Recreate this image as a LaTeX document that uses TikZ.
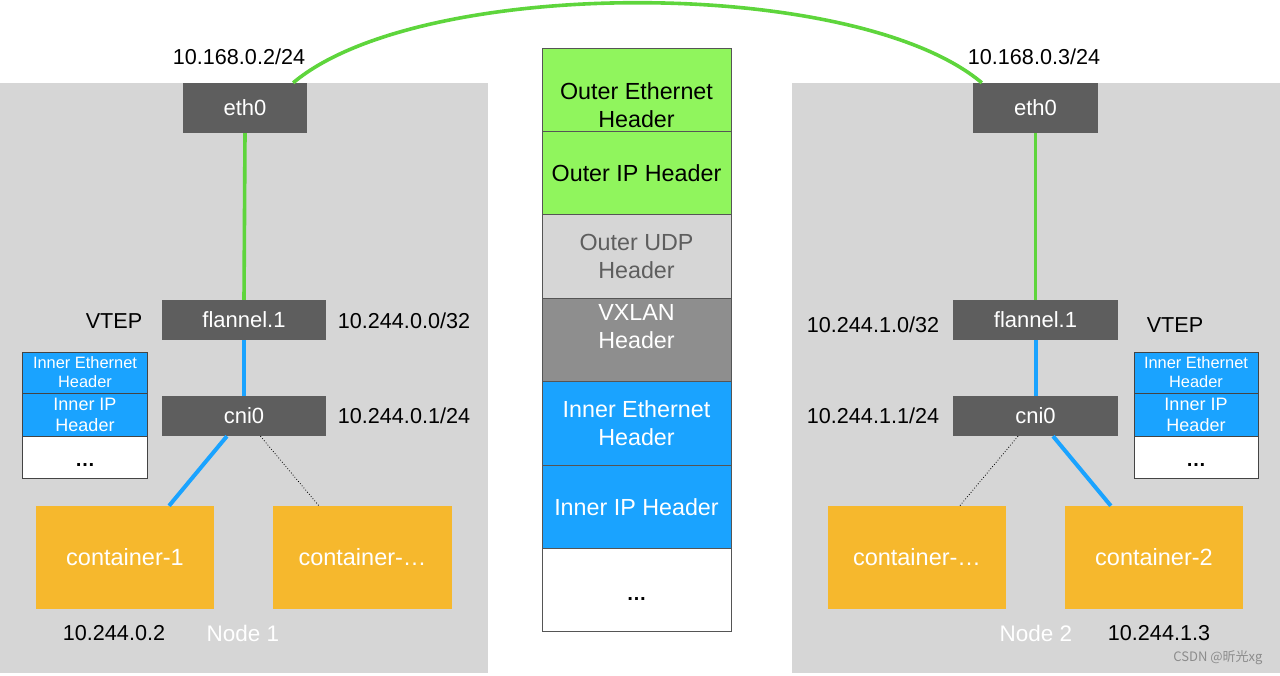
\documentclass[tikz,border=0pt]{standalone}
\usepackage{fontspec}
\setmainfont{Liberation Sans}
\newfontfamily\cjkfont{Noto Sans CJK SC}
\usetikzlibrary{calc}
\definecolor{panelgray}{HTML}{D6D6D6}
\definecolor{devgray}{HTML}{5E5E5E}
\definecolor{contorange}{HTML}{F6B82D}
\definecolor{hdrgreen}{HTML}{90F55D}
\definecolor{hdrblue}{HTML}{1AA3FF}
\definecolor{vxgray}{HTML}{8E8E8E}
\definecolor{linegreen}{HTML}{5ED53C}
\definecolor{linegray}{HTML}{555555}
\begin{document}
\begin{tikzpicture}[x=1pt,y=-1pt,
  dev/.style={fill=devgray, text=white, inner sep=0pt, font=\fontsize{22}{26}\selectfont},
  cont/.style={fill=contorange, text=white, inner sep=0pt, minimum width=178, minimum height=103, font=\fontsize{23.5}{26}\selectfont},
  lbl/.style={inner sep=0pt, font=\fontsize{21.6}{26}\selectfont},
  hdr/.style={draw=linegray, line width=1pt, inner sep=0pt, minimum width=189, minimum height=83.4, align=center, font=\fontsize{23.3}{28}\selectfont},
  shdr/.style={draw=linegray!80!black, line width=1pt, inner sep=0pt, minimum width=125, align=center},
  dots/.style={inner sep=0pt, anchor=base, font=\bfseries\fontsize{20}{24}\selectfont},
  greenline/.style={linegreen, line width=3.6pt},
  blueline/.style={hdrblue, line width=4pt},
  dotline/.style={black, line width=0.8pt, dotted},
]
\useasboundingbox (0,0) rectangle (1280,675);

% panels
\fill[panelgray] (0,83) rectangle (488,673);
\fill[panelgray] (792,83) rectangle (1280,673);

% ---- Node 1 ----
\node[dev, minimum width=124, minimum height=50] (eth0L) at (245,108) {eth0};
\node[dev, minimum width=164, minimum height=40] (flanL) at (244,320) {flannel.1};
\node[dev, minimum width=164, minimum height=40] (cniL) at (244,416) {cni0};
\node[cont] (c1) at (125,557.5) {container-1};
\node[cont, minimum width=179] (cL2) at (362.5,557.5) {container-\ldots};

\node[lbl] (ipL) at (239,57) {10.168.0.2/24};
\node[lbl] (vtepL) at (114,321) {VTEP};
\node[lbl] (fipL) at (404,321) {10.244.0.0/32};
\node[lbl] (cipL) at (404,416) {10.244.0.1/24};
\node[lbl] (c1ip) at (114,633) {10.244.0.2};
\node[lbl, text=white, font=\fontsize{22.5}{26}\selectfont] (node1) at (243,633) {Node 1};

\node[shdr, fill=hdrblue, text=white, minimum height=41, font=\fontsize{16.4}{19}\selectfont] (sL1) at (85,372.5) {Inner Ethernet\\Header};
\node[shdr, fill=hdrblue, text=white, minimum height=43, font=\fontsize{18}{21}\selectfont] (sL2) at (85,414.5) {Inner IP\\Header};
\node[shdr, fill=white, minimum height=42] (sL3) at (85,457) {};
\node[dots] (sL3t) at (85,466) {\ldots};

% ---- Node 2 ----
\node[dev, minimum width=125, minimum height=50] (eth0R) at (1035.5,108) {eth0};
\node[dev, minimum width=165, minimum height=40] (flanR) at (1035.5,320) {flannel.1};
\node[dev, minimum width=165, minimum height=40] (cniR) at (1035.5,416) {cni0};
\node[cont] (cR1) at (917,557.5) {container-\ldots};
\node[cont] (cR2) at (1154,557.5) {container-2};

\node[lbl] (ipR) at (1034,57) {10.168.0.3/24};
\node[lbl] (fipR) at (873,325) {10.244.1.0/32};
\node[lbl] (vtepR) at (1175,325) {VTEP};
\node[lbl] (cipR) at (873,416) {10.244.1.1/24};
\node[lbl, text=white, font=\fontsize{22.5}{26}\selectfont] (node2) at (1036,633) {Node 2};
\node[lbl] (c2ip) at (1159,633) {10.244.1.3};

\node[shdr, fill=hdrblue, text=white, minimum width=124, minimum height=41, font=\fontsize{16.4}{19}\selectfont] (sR1) at (1196,372.5) {Inner Ethernet\\Header};
\node[shdr, fill=hdrblue, text=white, minimum width=124, minimum height=43, font=\fontsize{18}{21}\selectfont] (sR2) at (1196,414.5) {Inner IP\\Header};
\node[shdr, fill=white, minimum width=124, minimum height=42] (sR3) at (1196,457) {};
\node[dots] (sR3t) at (1196,466) {\ldots};

% ---- middle packet ----
\node[hdr, fill=hdrgreen] (h1) at (636.5,89.7) {};
\node[inner sep=0pt, align=center, font=\fontsize{23.3}{28}\selectfont] (h1t) at (636.5,105) {Outer Ethernet\\Header};
\node[hdr, fill=hdrgreen] (h2) at (636.5,173.1) {Outer IP Header};
\node[hdr, fill=panelgray, text=devgray] (h3) at (636.5,256.5) {Outer UDP\\Header};
\node[hdr, fill=vxgray] (h4) at (636.5,339.9) {};
\node[inner sep=0pt, align=center, text=white, font=\fontsize{23.3}{28}\selectfont] (h4t) at (636.5,327) {VXLAN\\Header};
\node[hdr, fill=hdrblue, text=white] (h5) at (636.5,423.3) {Inner Ethernet\\Header};
\node[hdr, fill=hdrblue, text=white] (h6) at (636.5,506.7) {Inner IP Header};
\node[hdr, fill=white] (h7) at (636.5,590.1) {};
\node[dots] (h7t) at (636.5,600.5) {\ldots};

% watermark
\node[inner sep=0pt, text=black!45, font=\cjkfont\fontsize{13}{15}\selectfont] (wm) at (1218,658) {CSDN @昕光xg};

% ---- connectors ----
\draw[greenline] ($(eth0L.north west)!0.887!(eth0L.north east)$) .. controls (420,-24) and (855,-24) .. ($(eth0R.north west)!0.072!(eth0R.north east)$);
\draw[greenline] (eth0L.south) -- (flanL.north);
\draw[greenline] (eth0R.south) -- (flanR.north);
\draw[blueline] (flanL.south) -- (cniL.north);
\draw[blueline] (flanR.south) -- (cniR.north);
\draw[blueline] ($(cniL.south west)!0.396!(cniL.south east)$) -- ($(c1.north west)!0.747!(c1.north east)$);
\draw[dotline] ($(cniL.south west)!0.60!(cniL.south east)$) -- ($(cL2.north west)!0.257!(cL2.north east)$);
\draw[dotline] ($(cniR.south west)!0.394!(cniR.south east)$) -- ($(cR1.north west)!0.74!(cR1.north east)$);
\draw[blueline] ($(cniR.south west)!0.606!(cniR.south east)$) -- ($(cR2.north west)!0.258!(cR2.north east)$);
\end{tikzpicture}
\end{document}
